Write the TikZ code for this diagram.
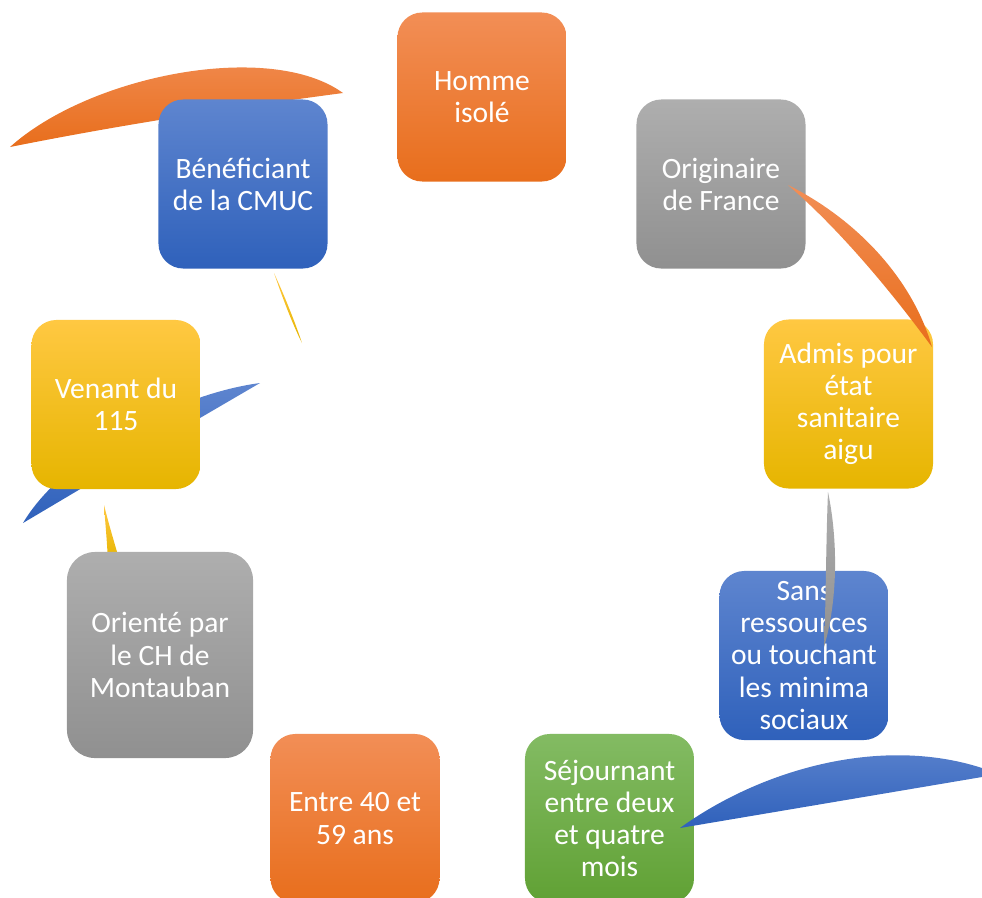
\documentclass[tikz,border=0pt]{standalone}
\usepackage{fontspec}
\setmainfont{Carlito}

\definecolor{orangeA}{RGB}{242,142,86}
\definecolor{orangeB}{RGB}{232,110,28}
\definecolor{blueA}{RGB}{94,133,207}
\definecolor{blueB}{RGB}{47,97,187}
\definecolor{grayA}{RGB}{174,174,174}
\definecolor{grayB}{RGB}{144,144,144}
\definecolor{yellowA}{RGB}{255,200,66}
\definecolor{yellowB}{RGB}{230,181,0}
\definecolor{greenA}{RGB}{131,187,99}
\definecolor{greenB}{RGB}{96,161,52}

\begin{document}
\begin{tikzpicture}[x=0.025cm, y=-0.025cm,
      etape/.style={rounded corners=0.62cm, minimum width=4.225cm, minimum height=4.225cm,
        inner sep=0pt, align=center, text=white, font=\fontsize{21}{22.8}\selectfont},
      orangebox/.style={etape, top color=orangeA, bottom color=orangeB},
      bluebox/.style={etape, top color=blueA, bottom color=blueB},
      graybox/.style={etape, top color=grayA, bottom color=grayB},
      yellowbox/.style={etape, top color=yellowA, bottom color=yellowB},
      greenbox/.style={etape, top color=greenA, bottom color=greenB}
    ]
      \useasboundingbox (0,0) rectangle (982,897);

      % arcs lying under the boxes
      \path[top color=orangeA, bottom color=orangeB] (10,147) .. controls (90,75) and (270,40) .. (343,93)
        .. controls (230,108) and (120,125) .. (10,147) -- cycle;
      \path[top color=blueA, bottom color=blueB] (260,383) .. controls (170,395) and (60,460) .. (23,523)
        -- (200,418) -- cycle;
      \path[top color=yellowA, bottom color=yellowB] (274,273) .. controls (285,297) and (295,322) .. (302,343)
        .. controls (292,323) and (283,299) .. (274,273) -- cycle;
      \path[top color=yellowA, bottom color=yellowB] (104,505) .. controls (109,525) and (115,545) .. (120,562)
        -- (108,562) .. controls (107,540) and (105,520) .. (104,505) -- cycle;

      % the nine boxes
      \node[orangebox] (homme) at (482,97) {Homme\\isolé};
      \node[graybox] (origine) at (721,184) {Originaire\\de France};
      \node[yellowbox] (admis) at (848.5,404) {Admis pour\\état\\sanitaire\\aigu};
      \node[bluebox] (ressources) at (804,655.5) {Sans\\ressources\\ou touchant\\les minima\\sociaux};
      \node[greenbox] (sejour) at (609.5,818.5) {Séjournant\\entre deux\\et quatre\\mois};
      \node[orangebox] (age) at (355,818.5) {Entre 40 et\\59 ans};
      \node[graybox, minimum width=4.65cm, minimum height=5.15cm, rounded corners=0.7cm] (oriente) at (160,655) {Orienté par\\le CH de\\Montauban};
      \node[yellowbox] (venant) at (116,404.5) {Venant du\\115};
      \node[bluebox] (cmuc) at (243,184) {Bénéficiant\\de la CMUC};

      % arcs lying over the boxes
      \path[top color=orangeA, bottom color=orangeB] (788,185) .. controls (858,220) and (913,280) .. (932,347)
        .. controls (890,290) and (840,230) .. (788,185) -- cycle;
      \path[top color=grayA, bottom color=grayB] (828,492) .. controls (838,540) and (838,600) .. (824,647)
        .. controls (826,600) and (826,540) .. (828,492) -- cycle;
      \path[top color=blueA, bottom color=blueB] (680,828) .. controls (760,770) and (880,735) .. (982,768)
        -- (982,777) -- cycle;
    \end{tikzpicture}
\end{document}
